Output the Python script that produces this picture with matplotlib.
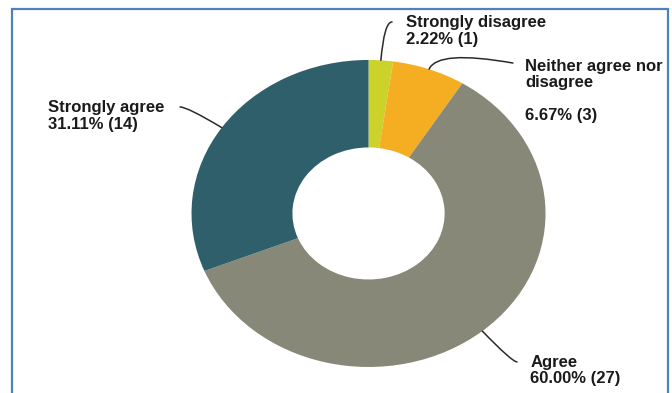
import numpy as np
import matplotlib.pyplot as plt
from matplotlib.patches import Rectangle

# data
labels = ['Strongly disagree', 'Neither agree nor disagree', 'Agree', 'Strongly agree']
counts = [1, 3, 27, 14]
colors = ['#CDD22A', '#F5AE22', '#878878', '#2E5F6B']

# label text and where each label block sits (data coords, pie radius = 1)
label_text = ['Strongly disagree\n2.22% (1)',
              'Neither agree nor\ndisagree\n\n6.67% (3)',
              'Agree\n60.00% (27)',
              'Strongly agree\n31.11% (14)']
label_pos = [(0.212, 1.19), (0.884, 0.80), (0.913, -1.023), (-1.811, 0.635)]
# where each leader line ends next to its label
line_end = [(0.133, 1.248), (0.816, 0.98), (0.839, -0.967), (-1.065, 0.694)]
line_style = ['angle3,angleA=0,angleB=85', 'angle3,angleA=-10,angleB=67',
              'angle3,angleA=0,angleB=-46', 'angle3,angleA=0,angleB=149']

fig = plt.figure(figsize=(6.72, 3.93), dpi=100)
ax = fig.add_axes([0.285, 0.0662, 0.5268, 0.7812])

wedges, _ = ax.pie(counts, colors=colors, startangle=90, counterclock=False,
                   radius=1.0, wedgeprops=dict(width=0.57, linewidth=0))
ax.set_aspect('auto')
ax.set_xlim(-1, 1)
ax.set_ylim(-1, 1)
ax.axis('off')

for w, txt, pos, end, cs in zip(wedges, label_text, label_pos, line_end, line_style):
    mid = np.deg2rad((w.theta1 + w.theta2) / 2)
    ax.annotate('', xy=(np.cos(mid), np.sin(mid)), xytext=end,
                arrowprops=dict(arrowstyle='-', color='#2b2b2b', lw=1.1,
                                shrinkA=0, shrinkB=0, connectionstyle=cs),
                annotation_clip=False)
    ax.text(pos[0], pos[1], txt, ha='left', va='center', fontsize=12,
            fontweight='bold', family='Liberation Sans', color='#1a1a1a',
            linespacing=1.12, clip_on=False)

# blue frame, bottom edge falls outside the picture
fig.patches.append(Rectangle((12 / 672, -0.1), 656 / 672, 1.1 - 9 / 393,
                             transform=fig.transFigure, fill=False,
                             edgecolor='#4F81BD', lw=1.6))

fig.savefig('out.png', dpi=100)
